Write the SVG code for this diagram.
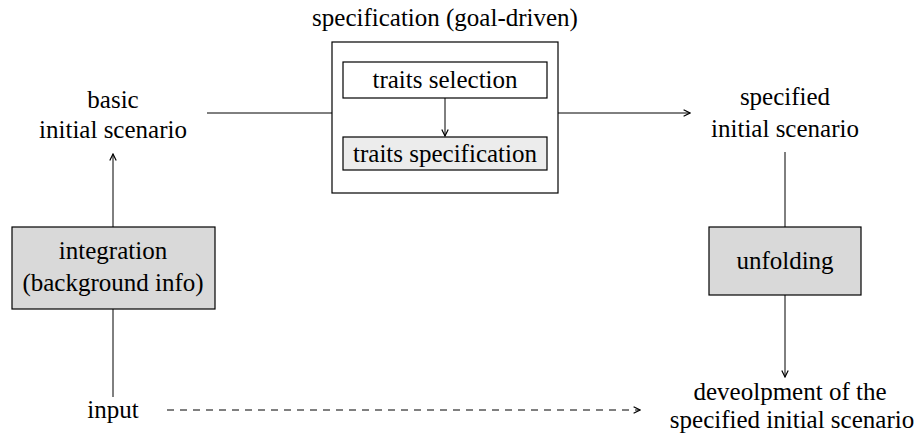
<svg xmlns="http://www.w3.org/2000/svg" width="923" height="438" viewBox="0 0 923 438">
<style>
text{font-family:"Liberation Serif","Times New Roman",serif;font-size:25px;fill:#000;text-anchor:middle}
.box{stroke:#000;stroke-width:1.2}
.ln{stroke:#000;stroke-width:1;fill:none}
</style>
<defs>
<marker id="ah" viewBox="0 0 10 10" refX="9" refY="5" markerWidth="8" markerHeight="8" markerUnits="userSpaceOnUse" orient="auto">
<path d="M1,1 L9,5 L1,9" fill="none" stroke="#000" stroke-width="1.5"/>
</marker>
</defs>
<rect width="923" height="438" fill="#fff"/>
<g id="spec">
<text x="445" y="26">specification (goal-driven)</text>
<rect class="box" x="332" y="42" width="226" height="151" fill="#fff"/>
</g>
<g id="traits-selection">
<rect class="box" x="343" y="62" width="204" height="36" fill="#fff"/>
<text x="445" y="88">traits selection</text>
</g>
<g id="traits-specification">
<rect class="box" x="343" y="137" width="204" height="33" fill="#ececec"/>
<text x="445" y="162">traits specification</text>
</g>
<g id="basic">
<text x="113" y="108">basic</text>
<text x="113" y="138">initial scenario</text>
</g>
<g id="integration">
<rect class="box" x="12" y="227" width="203" height="82" fill="#d9d9d9"/>
<text x="113" y="259">integration</text>
<text x="113" y="291">(background info)</text>
</g>
<g id="input">
<text x="113" y="418">input</text>
</g>
<g id="specified">
<text x="785" y="105">specified</text>
<text x="785" y="137">initial scenario</text>
</g>
<g id="unfolding">
<rect class="box" x="709" y="227" width="152" height="68" fill="#d9d9d9"/>
<text x="785" y="269">unfolding</text>
</g>
<g id="development">
<text x="790" y="400">deveolpment of the</text>
<text x="792" y="428">specified initial scenario</text>
</g>
<g id="connectors">
<line class="ln" x1="207" y1="113" x2="332" y2="113"/>
<line class="ln" x1="558" y1="113" x2="690" y2="113" marker-end="url(#ah)"/>
<line class="ln" x1="445" y1="98" x2="445" y2="136" marker-end="url(#ah)"/>
<line class="ln" x1="113" y1="227" x2="113" y2="154" marker-end="url(#ah)"/>
<line class="ln" x1="113" y1="397" x2="113" y2="309"/>
<line class="ln" x1="785" y1="152" x2="785" y2="227"/>
<line class="ln" x1="785" y1="295" x2="785" y2="377" marker-end="url(#ah)"/>
<line class="ln" x1="167" y1="410" x2="640" y2="410" stroke-dasharray="7,6" marker-end="url(#ah)"/>
</g>
</svg>
